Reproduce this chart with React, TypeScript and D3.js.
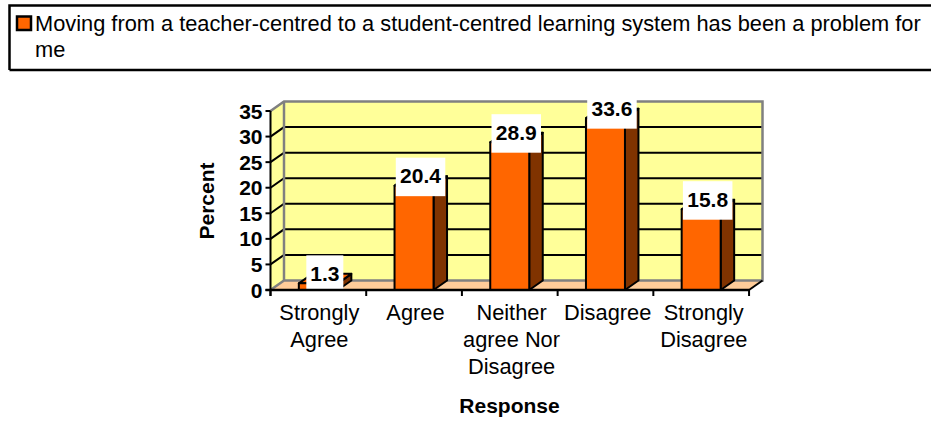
import React from 'react';
import * as d3 from 'd3';

const categories: string[][] = [
  ['Strongly', 'Agree'],
  ['Agree'],
  ['Neither', 'agree Nor', 'Disagree'],
  ['Disagree'],
  ['Strongly', 'Disagree'],
];
const values = [1.3, 20.4, 28.9, 33.6, 15.8];
const yTicks = [0, 5, 10, 15, 20, 25, 30, 35];
const legendLines = [
  'Moving from a teacher-centred to a student-centred learning system has been a problem for',
  'me',
];

const FONT = '"Liberation Sans", Arial, sans-serif';
const DX = 13.5;
const DY = -9.5;
const Y_WALL = '#FFFF99';
const FLOOR = '#FFCC99';
const ORANGE = '#FF6600';
const DARK = '#803300';
const GRAY = '#808080';

export default function App() {
  const x = d3
    .scaleBand<number>()
    .domain(values.map((_, i) => i))
    .range([270.5, 749])
    .paddingInner(0.5925)
    .paddingOuter(0.296);
  const y = d3.scaleLinear().domain([0, 35]).range([290, 111]);
  const step = x.step();
  const x0 = 270.5;
  const x1 = 749;
  const tickXs = d3.range(0, values.length + 1).map((i) => x0 + i * step);
  const pts = (a: number[][]) => a.map((p) => p.join(',')).join(' ');

  return (
    <svg
      width={931}
      height={421}
      style={{ position: 'absolute', left: 0, top: 0, background: '#fff' }}
      fontFamily={FONT}
    >
      {/* legend */}
      <path d="M9.5 70V5.5H931M9.5 70H931" fill="none" stroke="#000" strokeWidth={2.5} />
      <rect x={17} y={16.5} width={14} height={13.5} fill={ORANGE} stroke="#000" strokeWidth={2.5} />
      {legendLines.map((t, i) => (
        <text key={i} x={35} y={31 + i * 25.5} fontSize={21.8} fill="#000">
          {t}
        </text>
      ))}

      {/* walls */}
      <polygon points={pts([[x0, y(0)], [x0 + DX, y(0) + DY], [x0 + DX, y(35) + DY], [x0, y(35)]])} fill={Y_WALL} />
      <rect x={x0 + DX} y={y(35) + DY} width={x1 - x0} height={y(0) - y(35)} fill={Y_WALL} />
      <polygon points={pts([[x0, y(0)], [x1, y(0)], [x1 + DX, y(0) + DY], [x0 + DX, y(0) + DY]])} fill={FLOOR} />

      {/* gridlines */}
      {yTicks.slice(1, -1).map((v) => (
        <polyline
          key={v}
          points={pts([[x0, y(v)], [x0 + DX, y(v) + DY], [x1 + DX, y(v) + DY]])}
          fill="none"
          stroke="#000"
          strokeWidth={2}
        />
      ))}

      {/* wall frame */}
      <polyline
        points={pts([[x0, y(35)], [x0 + DX, y(35) + DY], [x1 + DX, y(35) + DY], [x1 + DX, y(0) + DY], [x0 + DX, y(0) + DY], [x0, y(0)]])}
        fill="none"
        stroke={GRAY}
        strokeWidth={2.5}
      />
      <line x1={x0 + DX} x2={x0 + DX} y1={y(35) + DY} y2={y(0) + DY} stroke={GRAY} strokeWidth={2.5} />

      {/* bars */}
      {values.map((v, i) => {
        const l = x(i)!;
        const r = l + x.bandwidth();
        const t = y(v);
        const b = y(0);
        return (
          <g key={i} stroke="#000" strokeWidth={2} strokeLinejoin="round">
            <polygon points={pts([[r, b], [r + DX, b + DY], [r + DX, t + DY], [r, t]])} fill={DARK} />
            <polygon points={pts([[l, t], [r, t], [r + DX, t + DY], [l + DX, t + DY]])} fill={ORANGE} />
            <rect x={l} y={t} width={r - l} height={b - t} fill={ORANGE} />
          </g>
        );
      })}

      {/* data labels */}
      {values.map((v, i) => {
        const cx = x(i)! + 26;
        const t = y(v);
        const w = v < 10 ? 37 : 49.5;
        return (
          <g key={i}>
            <rect x={cx - w / 2} y={t - 28} width={w} height={38.5} fill="#fff" />
            <text x={cx} y={t - 2.5} textAnchor="middle" fontSize={21} fontWeight="bold" fill="#000">
              {v.toFixed(1)}
            </text>
          </g>
        );
      })}

      {/* axes */}
      <line x1={x0} x2={x0} y1={y(35)} y2={y(0) + 6} stroke="#000" strokeWidth={2} />
      <line x1={x0 - 5} x2={x1} y1={y(0)} y2={y(0)} stroke="#000" strokeWidth={2.5} />
      <line x1={x1} x2={x1 + DX} y1={y(0)} y2={y(0) + DY} stroke="#000" strokeWidth={2} />
      {yTicks.map((v) => (
        <g key={v}>
          <line x1={x0 - 5} x2={x0} y1={y(v)} y2={y(v)} stroke="#000" strokeWidth={2} />
          <text x={262.5} y={y(v) + 7.5} textAnchor="end" fontSize={21} fontWeight="bold" fill="#000">
            {v}
          </text>
        </g>
      ))}
      {tickXs.map((tx, i) => (
        <line key={i} x1={tx} x2={tx} y1={y(0)} y2={y(0) + 6} stroke="#000" strokeWidth={2} />
      ))}
      {categories.map((lines, i) =>
        lines.map((t, j) => (
          <text
            key={j}
            x={x(i)! + x.bandwidth() / 2 + 1 + i * 0.4}
            y={320 + j * 27}
            textAnchor="middle"
            fontSize={21.8}
            fill="#000"
          >
            {t}
          </text>
        )),
      )}

      {/* axis titles */}
      <text transform="translate(214,201) rotate(-90)" textAnchor="middle" fontSize={21} fontWeight="bold" fill="#000">
        Percent
      </text>
      <text x={509.5} y={413} textAnchor="middle" fontSize={21} fontWeight="bold" fill="#000">
        Response
      </text>
    </svg>
  );
}
